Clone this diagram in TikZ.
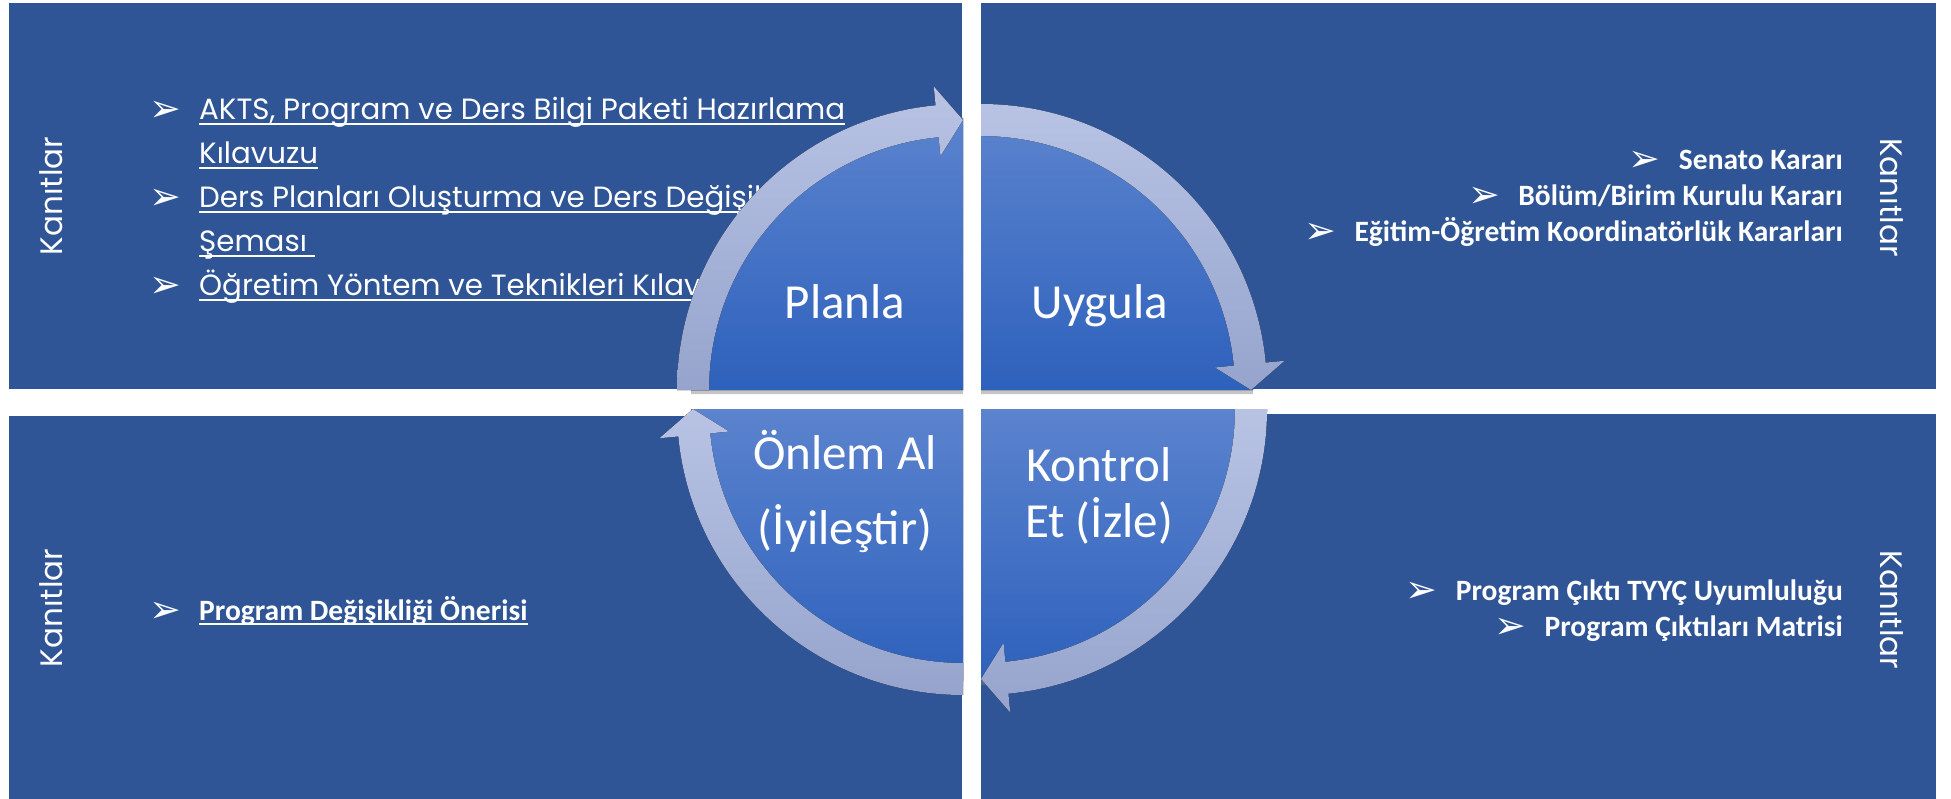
\documentclass[tikz,border=0pt]{standalone}
\usepackage{fontspec}
\setmainfont{Carlito}
\newfontfamily\poppins{Poppins}
\newfontfamily\dejavu{DejaVu Sans}
\usetikzlibrary{calc,shadows}
\definecolor{panelblue}{HTML}{2F5597}
\definecolor{pietop}{HTML}{5B83CE}
\definecolor{piebottom}{HTML}{2E61BC}
\definecolor{ringtop}{HTML}{B8C3E4}
\definecolor{ringbottom}{HTML}{96A4CD}
\newsavebox{\ulnbox}
\newcommand{\uln}[1]{\sbox{\ulnbox}{#1}\rlap{\rule[-5pt]{\wd\ulnbox}{1.7pt}}\usebox{\ulnbox}}
\newcommand{\bul}{\makebox[46pt][l]{\hspace*{-4pt}\raisebox{-2pt}{\dejavu\fontsize{38}{38}\selectfont ➢}}}
\newcommand{\quarterpie}[2]{\fill[quarter] (#1) -- ($(#1)+(#2:272)$) arc[start angle=#2, end angle=#2+90, radius=272] -- cycle;}
\newcommand{\cyclearrow}[2]{\fill[cyclering] ($(#1)+(#2:286)$) arc[start angle=#2, end angle=#2+84.5, radius=286]
  -- ($(#1)+(#2+84.5:305)$) -- ($(#1)+(#2+90:270)$) -- ($(#1)+(#2+84.5:235)$)
  -- ($(#1)+(#2+84.5:254)$) arc[start angle=#2+84.5, end angle=#2, radius=254] -- cycle;}
\tikzset{
  panelbox/.style={fill=panelblue},
  quarter/.style={top color=pietop, bottom color=piebottom, drop shadow={opacity=.45, shadow xshift=0pt, shadow yshift=-4pt}},
  cyclering/.style={top color=ringtop, bottom color=ringbottom},
  kanit/.style={text=white, inner sep=0pt, font=\poppins\fontsize{31}{31}\selectfont},
  phase/.style={text=white, inner sep=0pt, anchor=base, font=\fontsize{49}{55}\selectfont},
  guide/.style={text=white, inner sep=0pt, anchor=base west, font=\poppins\fontsize{29.3}{44}\selectfont},
  evidence/.style={text=white, inner sep=0pt, font=\bfseries\fontsize{29.5}{36}\selectfont},
}

\begin{document}
\begin{tikzpicture}[x=1pt, y=-1pt]
\useasboundingbox[fill=white] (0,0) rectangle (1951,799);
\fill[panelbox] (9,3) rectangle (962,389);
\fill[panelbox] (981,3) rectangle (1936,389);
\fill[panelbox] (9,416) rectangle (962,799);
\fill[panelbox] (981,414) rectangle (1936,799);

\node[kanit, rotate=90] (kanitplan) at (51.5,196) {Kanıtlar};
\node[kanit, rotate=-90] (kanitdo) at (1891.5,197.5) {Kanıtlar};
\node[kanit, rotate=-90] (kanitcheck) at (1891.5,610) {Kanıtlar};
\node[kanit, rotate=90] (kanitact) at (51.5,608) {Kanıtlar};

\node[guide] (planlist) at (153,120) {\begin{tabular}[t]{@{}l@{}}
\bul\uln{AKTS, Program ve Ders Bilgi Paketi Hazırlama}\\
\hspace*{46pt}\uln{Kılavuzu}\\
\bul\uln{Ders Planları Oluşturma ve Ders Değişikliği}\\
\hspace*{46pt}\uln{Şeması\ }\\
\bul\uln{Öğretim Yöntem ve Teknikleri Kılavuzu}
\end{tabular}};
\node[evidence, anchor=base east] (dolist) at (1843,170) {\begin{tabular}[t]{@{}r@{}}
\bul Senato Kararı\\
\bul Bölüm/Birim Kurulu Kararı\\
\bul Eğitim-Öğretim Koordinatörlük Kararları
\end{tabular}};
\node[evidence, anchor=base east] (checklist) at (1843,600) {\begin{tabular}[t]{@{}r@{}}
\bul Program Çıktı TYYÇ Uyumluluğu\\
\bul Program Çıktıları Matrisi
\end{tabular}};
\node[evidence, anchor=base west] (actlist) at (153,620) {\bul\uln{Program Değişikliği Önerisi}};

\coordinate (planc) at (963,390);
\coordinate (doc) at (981,390);
\coordinate (checkc) at (981,409);
\coordinate (actc) at (963,409);
\quarterpie{planc}{180}
\quarterpie{doc}{270}
\quarterpie{checkc}{0}
\quarterpie{actc}{90}
\cyclearrow{planc}{180}
\cyclearrow{doc}{270}
\cyclearrow{checkc}{0}
\cyclearrow{actc}{90}

\node[phase] (planla) at (845,319) {Planla};
\node[phase] (uygula) at (1100,319) {Uygula};
\node[phase] (kontrol) at (1099,481) {\begin{tabular}[t]{@{}c@{}}Kontrol\\Et (İzle)\end{tabular}};
\node[phase, font=\fontsize{49}{75}\selectfont] (onlem) at (845,469) {\begin{tabular}[t]{@{}c@{}}Önlem Al\\(İyileştir)\end{tabular}};
\end{tikzpicture}
\end{document}
